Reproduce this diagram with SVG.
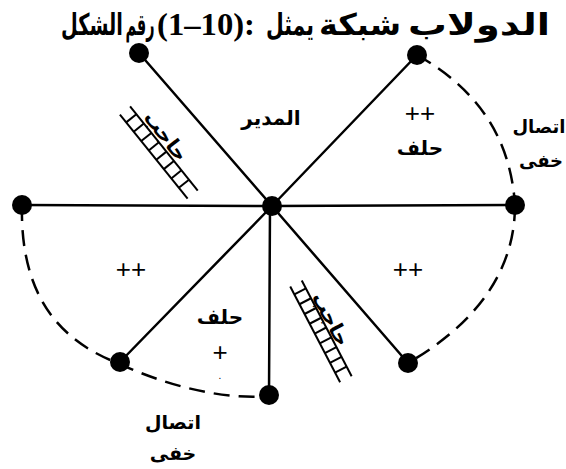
<svg xmlns="http://www.w3.org/2000/svg" width="566" height="469" viewBox="0 0 566 469">
<style>
.ln{stroke:#000;stroke-width:2.5;fill:none;stroke-linecap:round}
.ds{stroke:#000;stroke-width:2.5;fill:none;stroke-dasharray:16 9}
.nd{fill:#000}
.lad line{stroke:#000;stroke-width:2}
.ar{font-family:'DejaVu Sans','Noto Sans',sans-serif;font-weight:bold;text-anchor:middle;fill:#000}
.pl{font-family:'Liberation Sans','DejaVu Sans',sans-serif;text-anchor:middle;fill:#000}
.ttl{font-family:'DejaVu Sans',serif;font-weight:bold;font-size:30px;text-anchor:middle;fill:#000}
.num{font-family:'Liberation Serif',serif;font-weight:bold;font-size:31px}
</style>
<g id="title">
<text class="ttl" y="35"><tspan x="92" textLength="62" lengthAdjust="spacingAndGlyphs">الشكل</tspan><tspan x="140" textLength="29" lengthAdjust="spacingAndGlyphs">رقم</tspan><tspan class="num" x="206" textLength="98" lengthAdjust="spacingAndGlyphs">(1–10):</tspan><tspan x="290" textLength="48" lengthAdjust="spacingAndGlyphs">يمثل</tspan><tspan x="360" textLength="82" lengthAdjust="spacingAndGlyphs">شبكة</tspan><tspan x="479" textLength="142" lengthAdjust="spacingAndGlyphs">الدولاب</tspan></text>
</g>
<g id="connectors">
<line class="ln" x1="272" y1="206" x2="139" y2="53"/>
<line class="ln" x1="272" y1="206" x2="417" y2="55"/>
<line class="ln" x1="272" y1="206" x2="22" y2="205"/>
<line class="ln" x1="272" y1="206" x2="515" y2="205"/>
<line class="ln" x1="272" y1="206" x2="120" y2="362"/>
<line class="ln" x1="270" y1="206" x2="269" y2="395"/>
<line class="ln" x1="272" y1="206" x2="408" y2="363"/>
<path class="ds" d="M417,55 C470,85 510,130 515,205"/>
<path class="ds" d="M515,205 C515,280 465,330 408,363"/>
<path class="ds" d="M22,205 C20,290 55,338 115,362 C165,385 220,400 269,396"/>
</g>
<g id="n-center"><circle class="nd" cx="272" cy="206" r="10"/></g>
<g id="n-topleft"><circle class="nd" cx="139" cy="53" r="10"/></g>
<g id="n-topright"><circle class="nd" cx="417" cy="55" r="10"/></g>
<g id="n-left"><circle class="nd" cx="22" cy="205" r="10"/></g>
<g id="n-right"><circle class="nd" cx="515" cy="205" r="10"/></g>
<g id="n-bottomleft"><circle class="nd" cx="120" cy="362" r="10"/></g>
<g id="n-bottom"><circle class="nd" cx="269" cy="395" r="10"/></g>
<g id="n-bottomright"><circle class="nd" cx="408" cy="363" r="10"/></g>
<g id="ladder1" class="lad" transform="translate(125,110.5) rotate(51.2)">
<line x1="0" y1="-6.5" x2="108" y2="-6.5"/><line x1="0" y1="6.5" x2="108" y2="6.5"/>
<line x1="10" y1="-6.5" x2="10" y2="6.5"/><line x1="22" y1="-6.5" x2="22" y2="6.5"/><line x1="34" y1="-6.5" x2="34" y2="6.5"/><line x1="46" y1="-6.5" x2="46" y2="6.5"/><line x1="58" y1="-6.5" x2="58" y2="6.5"/><line x1="70" y1="-6.5" x2="70" y2="6.5"/><line x1="82" y1="-6.5" x2="82" y2="6.5"/><line x1="94" y1="-6.5" x2="94" y2="6.5"/>
</g>
<g id="ladder2" class="lad" transform="translate(296,283.5) rotate(62.5)">
<line x1="0" y1="-6.5" x2="108" y2="-6.5"/><line x1="0" y1="6.5" x2="108" y2="6.5"/>
<line x1="9" y1="-6.5" x2="9" y2="6.5"/><line x1="20" y1="-6.5" x2="20" y2="6.5"/><line x1="31" y1="-6.5" x2="31" y2="6.5"/><line x1="42" y1="-6.5" x2="42" y2="6.5"/><line x1="53" y1="-6.5" x2="53" y2="6.5"/><line x1="64" y1="-6.5" x2="64" y2="6.5"/><line x1="75" y1="-6.5" x2="75" y2="6.5"/><line x1="86" y1="-6.5" x2="86" y2="6.5"/><line x1="97" y1="-6.5" x2="97" y2="6.5"/>
</g>
<text class="ar" font-size="20" transform="translate(166,136) rotate(52)" y="7">حاجب</text>
<text class="ar" font-size="20" transform="translate(331,319) rotate(62)" y="7">حاجب</text>
<text class="ar" font-size="20" x="271" y="125">المدير</text>
<text class="pl" font-size="26" x="420" y="122">++</text>
<text class="ar" font-size="20" x="420" y="155">حلف</text>
<text class="ar" font-size="18" x="539" y="133">اتصال</text>
<text class="ar" font-size="18" x="541" y="167">خفى</text>
<text class="pl" font-size="26" x="131" y="278">++</text>
<text class="pl" font-size="26" x="408" y="278">++</text>
<text class="ar" font-size="20" x="220" y="324">حلف</text>
<text class="pl" font-size="26" x="220" y="361">+</text>
<text class="pl" font-size="10" x="220" y="379">.</text>
<text class="ar" font-size="19" x="173" y="429">اتصال</text>
<text class="ar" font-size="19" x="173" y="460">خفى</text>
</svg>
